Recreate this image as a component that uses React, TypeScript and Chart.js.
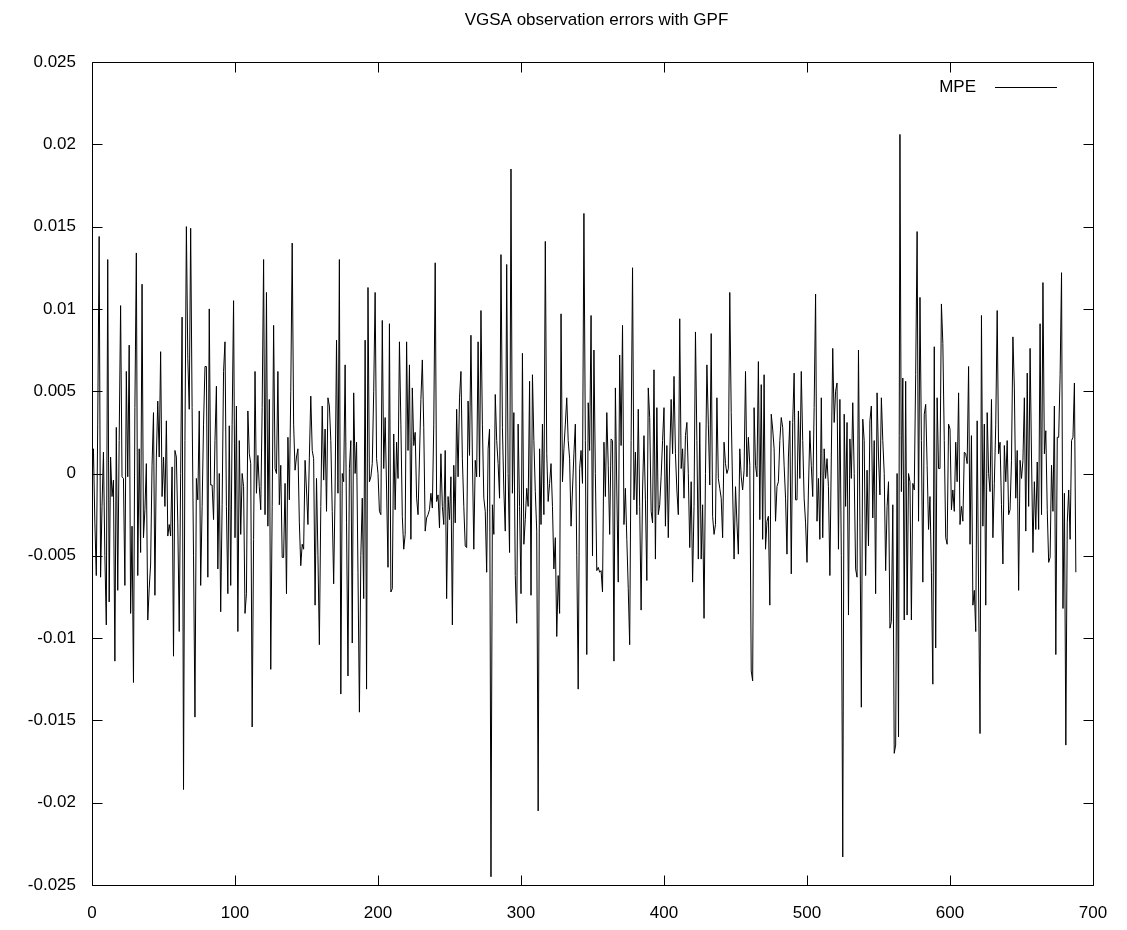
import React, { useEffect, useRef } from "react";
import { Chart, registerables } from "chart.js";

Chart.register(...registerables);

const TITLE = "VGSA observation errors with GPF";
const SERIES_LABEL = "MPE";
const X_MIN = 0;
const X_MAX = 700;
const X_STEP = 100;
const Y_MIN = -0.025;
const Y_MAX = 0.025;
const Y_STEP = 0.005;

// MPE observation errors, in units of 1e-3 (steps 0..688)
const mpeSegA = [
  -0.5, 1.5, -3.0, -6.2, 3.0, 14.4, -6.3, -2.0, 1.3, -5.0,
  -9.2, 13.0, -7.8, 1.0, -1.4, -0.4, -11.4, 2.8, -7.1, 2.0,
  10.2, -0.2, -0.3, -6.8, 6.2, -0.2, 7.8, -8.5, -3.2, -12.7,
  4.0, 13.4, -6.2, 1.5, -4.8, 11.5, -3.9, -2.2, 0.6, -8.9,
  -7.0, -5.5, 0.5, 3.7, -7.4, 1.0, 4.4, 1.0, 7.4, -1.4,
  1.0, -2.0,
];
const mpeSegB = [
  3.2, -3.8, -3.1, -3.8, 0.4, -11.1, 1.4, 1.0, -3.0,
  -9.6, 0.0, 9.5, -19.2, 2.0, 15.0, 7.0, 3.9, 14.9, 4.0,
  -5.0, -14.8, -0.3, -1.6, 3.8, -6.8, -2.0, 3.0, 6.5, 6.5,
  -6.3, 10.0, -0.7, -0.7, -2.8, 2.0, 5.3, -5.8, 0.0, -8.4,
  -1.9, 6.2, 8.0, -2.0, -7.3, 2.9, -6.8, 3.0, 10.5, -3.9,
  4.1, -9.6, 2.0, -3.7, 0.0, -0.8, -8.5, -7.3, 3.8, 1.2,
  0.6, -15.4, -4.0, 6.2, -1.2, 1.1, -0.8, -2.2, 4.0, 13.0,
  -2.5, 11.0, -3.2, 4.5, -11.9, -2.0, 9.0, 0.3, 0.0, 6.2,
  -1.9, 0.5, -5.1, -5.1, -0.6, -7.3, 2.2, -1.6, 5.0, 14.0,
  3.0, 0.2, 1.0, 1.5, -3.0, -5.6, -4.3, -4.6, 0.8, -1.0,
  -3.1, 1.0,
];
const mpeSegC = [
  4.7, 1.4, 0.9, -8.0, -0.3, -5.0, -10.4, -2.0, 4.1,
  -0.4, 2.7, -2.3, 4.6, 4.1, 2.0, -2.3, -6.7, -1.0, 8.1,
  -1.2, 13.0, -13.4, 0.0, -0.5, 6.6, -3.0, -12.3, 0.3, 2.0,
  -10.3, 4.9, 0.0, 1.9, -6.0, -14.5, -5.0, -1.5, -7.6, 8.1,
  -13.1, 11.3, -0.5, -0.2, 0.6, 5.0, 11.0, 0.9, 0.0, -2.3,
  -2.5, 9.3, 0.3, 3.4, -1.0, -5.7, 9.1, -7.2, -7.0, 2.4,
  -2.2, 1.9, -0.3, 8.0, 3.0, -2.6, -4.6, -3.7, 8.0, 1.4,
  6.6, -4.0, 5.2, 1.7, 2.5, -1.5, -2.5, 1.0, 4.5, 6.9,
  2.8, -3.5, -2.7, -2.5, -2.2, -1.2, -2.1, 3.0, 12.8, -1.7,
  -1.3, -3.3, 1.2, -2.0, -3.1, 1.4, -7.6, -1.4, -2.8, -0.2,
  -9.2, 0.5,
];
const mpeSegD = [
  -3.0, 3.9, -0.2, 4.6, 6.2, 0.9, -2.0, -4.4, -4.5,
  4.4, 1.1, 8.4, 1.0, -4.6, 0.8, -0.2, 8.0, -0.2, 9.9,
  3.0, -1.5, -2.3, -6.0, 1.5, 2.7, -24.5, -1.9, -3.7, 4.8,
  2.0, 0.6, -1.5, 13.3, 2.8, -1.0, -3.5, 12.7, 0.0, -4.8,
  18.5, -1.2, 3.7, -6.2, -9.1, 3.0, -2.0, -7.3, 7.3, -4.3,
  -2.8, -0.9, -2.0, 5.6, -7.4, 6.0, 2.0, -1.1, -3.5, -20.5,
  1.5, -3.1, 3.0, -2.5, 14.1, 1.2, -1.7, -0.6, 0.6, -2.0,
  -5.8, -3.9, -9.9, -6.2, -8.5, 9.7, -0.5, 1.5, 3.0, 4.6,
  2.0, 0.9, -3.2, -1.0, 1.2, 3.0, -5.0, -13.1, 0.3, 1.4,
  -0.6, 15.8, 2.0, -11.0, 4.3, 1.4, 9.6, -5.0, 7.5, 0.0,
  -5.9, -5.7,
];
const mpeSegE = [
  -6.0, -5.9, -7.2, 1.9, -1.4, 3.7, 0.5, -3.7, 2.1,
  2.0, -11.4, 5.2, -1.0, -6.6, 7.2, 1.7, 9.0, -3.1, -0.9,
  -4.0, -7.0, -10.4, 2.0, 12.5, -1.6, 1.3, -2.5, 3.9, -2.0,
  -8.3, -1.0, 2.3, -1.6, -6.5, 5.2, 3.4, -2.3, -3.0, 6.3,
  -5.2, 4.0, -2.5, -1.9, -0.2, 2.0, 4.0, -3.2, 1.7, -3.9,
  1.0, 4.5, 1.2, 5.9, 1.2, -1.0, -2.5, 9.4, 0.3, 1.5,
  -1.5, 2.3, 3.1, 0.0, -4.5, -0.5, -6.6, -2.0, 8.6, 2.0,
  -5.2, 3.1, -5.2, -1.9, -8.8, 0.0, 6.6, 3.0, -0.7, 8.5,
  -2.6, -3.7, -3.1, 4.6, -0.3, -0.9, -1.5, -3.9, 1.9, 0.6,
  0.0, 0.3, 11.0, 3.7, -1.0, -5.2, -0.8, -3.0, -4.9, 1.5,
  -0.2, -1.0,
];
const mpeSegF = [
  0.2, 6.2, -0.2, 2.2, 0.5, -12.0, -12.6, 4.0, 0.5,
  -0.2, 6.8, -2.8, 5.4, -4.0, 6.0, -4.6, -2.9, -2.6, -8.0,
  3.6, 2.7, 1.5, -2.9, -0.8, -0.5, 2.0, 3.4, 2.8, 0.5,
  -1.5, -4.9, 1.0, 3.2, -6.1, 3.1, 6.1, -1.6, -1.6, 3.8,
  -0.3, 6.2, 2.0, -1.5, -3.0, -5.4, -1.0, 2.6, 0.5, -1.4,
  4.0, 10.9, -2.9, -0.3, -4.0, 4.6, -3.9, 1.5, -0.3, 0.9,
  -0.8, -6.2, 1.0, 7.6, 3.1, 5.0, 5.5, -4.6, 4.5, -5.0,
  -23.3, 3.6, -2.0, 3.1, -8.6, 2.1, -0.3, 4.3, 0.0, -5.8,
  -6.3, 7.5, -3.0, -14.2, 3.3, 2.0, -6.2, 0.2, -4.4, 3.2,
  4.1, -2.7, 2.0, -7.3, 4.9, 1.0, -1.3, 4.6, 2.0, 0.0,
  -5.9, -2.0,
];
const mpeSegG = [
  -0.5, -9.4, -9.0, -1.9, -17.0, -16.5, 0.0, -16.0, 20.6,
  -1.1, 5.8, -8.9, 5.6, -8.6, 0.0, -0.5, -8.9, -0.6, -1.0,
  6.0, 14.7, -2.9, 10.7, 2.0, -6.6, 3.6, 4.2, 0.5, -3.4,
  -1.4, -6.0, -12.8, 7.7, -10.6, 4.6, 0.3, 0.3, 10.3, 7.9,
  2.0, -3.9, -4.3, 3.0, 2.7, -2.2, -1.0, -2.3, 1.9, -0.5,
  4.9, -3.1, -2.0, -2.9, 1.3, 1.2, 0.6, 6.5, -4.3, 2.3,
  -8.0, -7.1, -9.6, 3.2, -7.2, -15.8, 9.6, -3.2, 3.0, -8.0,
  3.7, 0.0, -1.1, 4.5, -3.9, -0.6, 3.0, 9.9, 1.2, 1.9,
  -1.9, -5.5, 1.7, -0.5, 2.0, -2.5, -2.2, 0.8, 8.3, 5.2,
  -1.5, 1.4, -7.1, 0.8, -0.3, 0.8, 4.6, -3.5, 6.1, -2.0,
  7.6, 1.0,
  -4.8, -0.5, -3.4, 0.7, -3.4, 9.1, -2.5, 11.6, 1.2,
  2.6, -2.2, -5.4, -5.1, 0.5, -2.3, 4.1, -11.0, 2.2, 2.2,
  6.0, 12.2, -8.2, -1.2, -16.5, -3.0, -1.0, -4.0, 2.0, 2.2,
  5.5, -6.0,
];

const mpeMilli = [
  ...mpeSegA, ...mpeSegB, ...mpeSegC, ...mpeSegD,
  ...mpeSegE, ...mpeSegF, ...mpeSegG,
];
const mpe = mpeMilli.map((v) => v / 1000);
const steps = mpe.map((_, i) => i);

const FONT_FAMILY = "'Liberation Sans', Arial, Helvetica, sans-serif";
const FONT_SIZE = 17;

const gnuplotFrame = {
  id: "gnuplotFrame",
  afterDraw(chart: any) {
    const { ctx, chartArea, scales } = chart;
    const { left, right, top, bottom } = chartArea;
    const xs = scales.x;
    const ys = scales.y;
    const TL = 10;
    ctx.save();
    ctx.strokeStyle = "#000";
    ctx.lineWidth = 1;
    ctx.beginPath();
    const l = Math.round(left) + 0.5;
    const r = Math.round(right) + 0.5;
    const t = Math.round(top) + 0.5;
    const b = Math.round(bottom) + 0.5;
    ctx.rect(l, t, r - l, b - t);
    xs.ticks.forEach((tk: any) => {
      const px = Math.round(xs.getPixelForValue(tk.value)) + 0.5;
      ctx.moveTo(px, b);
      ctx.lineTo(px, b - TL);
      ctx.moveTo(px, t);
      ctx.lineTo(px, t + TL);
    });
    ys.ticks.forEach((tk: any) => {
      const py = Math.round(ys.getPixelForValue(tk.value)) + 0.5;
      ctx.moveTo(l, py);
      ctx.lineTo(l + TL, py);
      ctx.moveTo(r, py);
      ctx.lineTo(r - TL, py);
    });
    ctx.stroke();

    // title
    ctx.fillStyle = "#000";
    ctx.font = `${FONT_SIZE}px ${FONT_FAMILY}`;
    ctx.textAlign = "center";
    ctx.textBaseline = "middle";
    ctx.fillText(TITLE, (left + right) / 2 + 4, 20);

    // key (legend)
    const ky = Math.round(top + 25) + 0.5;
    ctx.textAlign = "right";
    ctx.fillText(chart.data.datasets[0].label, right - 117, ky);
    ctx.beginPath();
    ctx.moveTo(right - 98, ky);
    ctx.lineTo(right - 36, ky);
    ctx.strokeStyle = chart.data.datasets[0].borderColor;
    ctx.lineWidth = 1;
    ctx.stroke();
    ctx.restore();
  },
};

export default function App() {
  const canvasRef = useRef<HTMLCanvasElement | null>(null);

  useEffect(() => {
    const canvas = canvasRef.current;
    if (!canvas) return;
    const tickFont = { family: FONT_FAMILY, size: FONT_SIZE };
    const chart = new Chart(canvas, {
      type: "line",
      data: {
        datasets: [
          {
            label: SERIES_LABEL,
            data: steps.map((s, i) => ({ x: s, y: mpe[i] })),
            borderColor: "#000",
            borderWidth: 1,
            pointRadius: 0,
            pointHoverRadius: 0,
            tension: 0,
            fill: false,
          },
        ],
      },
      plugins: [gnuplotFrame],
      options: {
        responsive: false,
        animation: false,
        devicePixelRatio: 1,
        layout: { padding: { top: 62, right: 34, left: 0, bottom: 0 } },
        plugins: {
          legend: { display: false },
          title: { display: false },
          tooltip: { enabled: false },
        },
        scales: {
          x: {
            type: "linear",
            min: X_MIN,
            max: X_MAX,
            ticks: {
              stepSize: X_STEP,
              font: tickFont,
              color: "#000",
              padding: 18,
              maxRotation: 0,
              autoSkip: false,
              callback: (v: any) => String(v),
            },
            grid: { display: false, drawTicks: false },
            border: { display: false },
            afterFit: (s: any) => {
              s.height = 45;
            },
          },
          y: {
            type: "linear",
            min: Y_MIN,
            max: Y_MAX,
            ticks: {
              stepSize: Y_STEP,
              font: tickFont,
              color: "#000",
              padding: 16,
              autoSkip: false,
              callback: (v: any) => String(parseFloat(Number(v).toFixed(3))),
            },
            grid: { display: false, drawTicks: false },
            border: { display: false },
            afterFit: (s: any) => {
              s.width = 92;
            },
          },
        },
      },
    } as any);
    return () => chart.destroy();
  }, []);

  return (
    <div
      style={{
        position: "absolute",
        left: 0,
        top: 0,
        width: 1127,
        height: 930,
        background: "#fff",
      }}
    >
      <canvas
        ref={canvasRef}
        width={1127}
        height={930}
        style={{ width: 1127, height: 930, display: "block" }}
      />
    </div>
  );
}
